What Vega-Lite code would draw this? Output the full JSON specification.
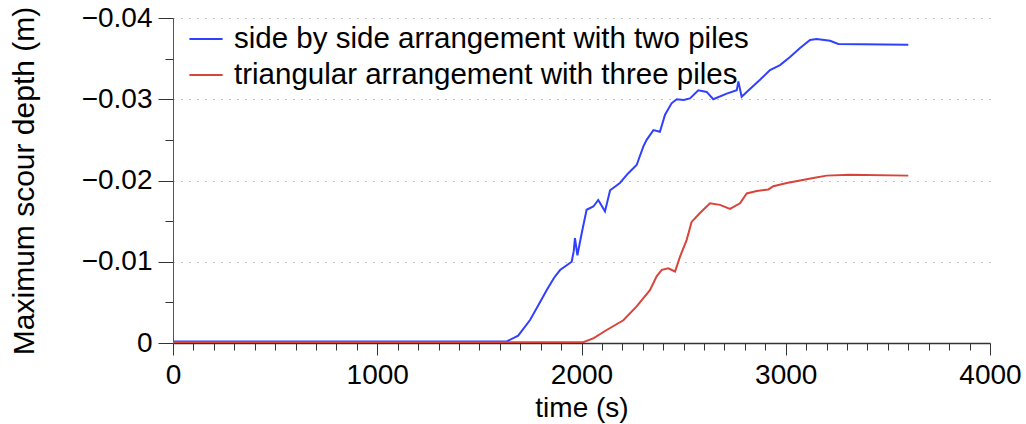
{
  "$schema": "https://vega.github.io/schema/vega-lite/v6.json",
  "autosize": {"type": "none"},
  "width": 817,
  "height": 325,
  "padding": {"left": 173, "top": 18, "right": 36, "bottom": 81},
  "background": "white",
  "config": {
    "view": {"stroke": null},
    "font": "Liberation Sans"
  },
  "data": {
    "values": [
      {"t": 0, "d": -0.0002, "s": "side by side arrangement with two piles"},
      {"t": 1634, "d": -0.0002, "s": "side by side arrangement with two piles"},
      {"t": 1690, "d": -0.0009, "s": "side by side arrangement with two piles"},
      {"t": 1748, "d": -0.00283, "s": "side by side arrangement with two piles"},
      {"t": 1790, "d": -0.0047, "s": "side by side arrangement with two piles"},
      {"t": 1830, "d": -0.00652, "s": "side by side arrangement with two piles"},
      {"t": 1865, "d": -0.0080, "s": "side by side arrangement with two piles"},
      {"t": 1895, "d": -0.00898, "s": "side by side arrangement with two piles"},
      {"t": 1952, "d": -0.0100, "s": "side by side arrangement with two piles"},
      {"t": 1962, "d": -0.0113, "s": "side by side arrangement with two piles"},
      {"t": 1968, "d": -0.0129, "s": "side by side arrangement with two piles"},
      {"t": 1980, "d": -0.0108, "s": "side by side arrangement with two piles"},
      {"t": 2001, "d": -0.0135, "s": "side by side arrangement with two piles"},
      {"t": 2025, "d": -0.0164, "s": "side by side arrangement with two piles"},
      {"t": 2058, "d": -0.0168, "s": "side by side arrangement with two piles"},
      {"t": 2082, "d": -0.0176, "s": "side by side arrangement with two piles"},
      {"t": 2115, "d": -0.0162, "s": "side by side arrangement with two piles"},
      {"t": 2140, "d": -0.0188, "s": "side by side arrangement with two piles"},
      {"t": 2188, "d": -0.0197, "s": "side by side arrangement with two piles"},
      {"t": 2229, "d": -0.0209, "s": "side by side arrangement with two piles"},
      {"t": 2270, "d": -0.0219, "s": "side by side arrangement with two piles"},
      {"t": 2303, "d": -0.0242, "s": "side by side arrangement with two piles"},
      {"t": 2319, "d": -0.0250, "s": "side by side arrangement with two piles"},
      {"t": 2352, "d": -0.0262, "s": "side by side arrangement with two piles"},
      {"t": 2384, "d": -0.0260, "s": "side by side arrangement with two piles"},
      {"t": 2409, "d": -0.0281, "s": "side by side arrangement with two piles"},
      {"t": 2441, "d": -0.0295, "s": "side by side arrangement with two piles"},
      {"t": 2466, "d": -0.0300, "s": "side by side arrangement with two piles"},
      {"t": 2500, "d": -0.0299, "s": "side by side arrangement with two piles"},
      {"t": 2531, "d": -0.0301, "s": "side by side arrangement with two piles"},
      {"t": 2572, "d": -0.0311, "s": "side by side arrangement with two piles"},
      {"t": 2613, "d": -0.0309, "s": "side by side arrangement with two piles"},
      {"t": 2645, "d": -0.0300, "s": "side by side arrangement with two piles"},
      {"t": 2711, "d": -0.0307, "s": "side by side arrangement with two piles"},
      {"t": 2760, "d": -0.0311, "s": "side by side arrangement with two piles"},
      {"t": 2768, "d": -0.0322, "s": "side by side arrangement with two piles"},
      {"t": 2784, "d": -0.0303, "s": "side by side arrangement with two piles"},
      {"t": 2809, "d": -0.0309, "s": "side by side arrangement with two piles"},
      {"t": 2874, "d": -0.0324, "s": "side by side arrangement with two piles"},
      {"t": 2923, "d": -0.0336, "s": "side by side arrangement with two piles"},
      {"t": 2972, "d": -0.0342, "s": "side by side arrangement with two piles"},
      {"t": 3021, "d": -0.0352, "s": "side by side arrangement with two piles"},
      {"t": 3070, "d": -0.0363, "s": "side by side arrangement with two piles"},
      {"t": 3119, "d": -0.0373, "s": "side by side arrangement with two piles"},
      {"t": 3151, "d": -0.0374, "s": "side by side arrangement with two piles"},
      {"t": 3217, "d": -0.0372, "s": "side by side arrangement with two piles"},
      {"t": 3257, "d": -0.0368, "s": "side by side arrangement with two piles"},
      {"t": 3600, "d": -0.0367, "s": "side by side arrangement with two piles"},
      {"t": 0, "d": -0.0001, "s": "triangular arrangement with three piles"},
      {"t": 2009, "d": -0.0001, "s": "triangular arrangement with three piles"},
      {"t": 2060, "d": -0.0006, "s": "triangular arrangement with three piles"},
      {"t": 2123, "d": -0.0016, "s": "triangular arrangement with three piles"},
      {"t": 2205, "d": -0.0028, "s": "triangular arrangement with three piles"},
      {"t": 2270, "d": -0.0045, "s": "triangular arrangement with three piles"},
      {"t": 2335, "d": -0.0065, "s": "triangular arrangement with three piles"},
      {"t": 2368, "d": -0.0082, "s": "triangular arrangement with three piles"},
      {"t": 2393, "d": -0.0090, "s": "triangular arrangement with three piles"},
      {"t": 2425, "d": -0.0092, "s": "triangular arrangement with three piles"},
      {"t": 2458, "d": -0.0088, "s": "triangular arrangement with three piles"},
      {"t": 2482, "d": -0.0106, "s": "triangular arrangement with three piles"},
      {"t": 2515, "d": -0.0127, "s": "triangular arrangement with three piles"},
      {"t": 2539, "d": -0.0149, "s": "triangular arrangement with three piles"},
      {"t": 2580, "d": -0.0160, "s": "triangular arrangement with three piles"},
      {"t": 2629, "d": -0.0172, "s": "triangular arrangement with three piles"},
      {"t": 2678, "d": -0.0170, "s": "triangular arrangement with three piles"},
      {"t": 2727, "d": -0.0165, "s": "triangular arrangement with three piles"},
      {"t": 2776, "d": -0.0172, "s": "triangular arrangement with three piles"},
      {"t": 2809, "d": -0.0184, "s": "triangular arrangement with three piles"},
      {"t": 2858, "d": -0.0187, "s": "triangular arrangement with three piles"},
      {"t": 2915, "d": -0.0189, "s": "triangular arrangement with three piles"},
      {"t": 2939, "d": -0.0193, "s": "triangular arrangement with three piles"},
      {"t": 3005, "d": -0.0197, "s": "triangular arrangement with three piles"},
      {"t": 3070, "d": -0.0200, "s": "triangular arrangement with three piles"},
      {"t": 3135, "d": -0.0203, "s": "triangular arrangement with three piles"},
      {"t": 3200, "d": -0.0206, "s": "triangular arrangement with three piles"},
      {"t": 3314, "d": -0.0207, "s": "triangular arrangement with three piles"},
      {"t": 3600, "d": -0.0206, "s": "triangular arrangement with three piles"}
    ]
  },
  "mark": {"type": "line", "strokeWidth": 2, "clip": true},
  "encoding": {
    "x": {
      "field": "t",
      "type": "quantitative",
      "scale": {"domain": [0, 4000], "nice": false, "zero": false},
      "axis": {
        "title": "time (s)",
        "titleFont": "Liberation Sans",
        "titleFontSize": 28,
        "titleFontWeight": "normal",
        "titleColor": "black",
        "titlePadding": 5,
        "values": [0,100,200,300,400,500,600,700,800,900,1000,1100,1200,1300,1400,1500,1600,1700,1800,1900,2000,2100,2200,2300,2400,2500,2600,2700,2800,2900,3000,3100,3200,3300,3400,3500,3600,3700,3800,3900,4000],
        "labelExpr": "datum.value % 1000 === 0 ? format(datum.value, 'd') : ''",
        "labelFont": "Liberation Sans",
        "labelFontSize": 28,
        "labelColor": "black",
        "labelPadding": 6,
        "labelFlush": false,
        "labelOverlap": false,
        "tickSize": {"condition": {"test": "datum.value % 1000 === 0", "value": 12}, "value": 7},
        "tickColor": "#333",
        "tickWidth": 1,
        "domainColor": "#333",
        "domainWidth": 1.5,
        "grid": false
      }
    },
    "y": {
      "field": "d",
      "type": "quantitative",
      "scale": {"domain": [-0.04, 0], "reverse": true, "nice": false, "zero": false},
      "axis": {
        "title": "Maximum scour depth (m)",
        "titleFont": "Liberation Sans",
        "titleFontSize": 30,
        "titleFontWeight": "normal",
        "titleColor": "black",
        "titlePadding": 42,
        "values": [0, -0.005, -0.01, -0.015, -0.02, -0.025, -0.03, -0.035, -0.04],
        "labelExpr": "abs(datum.value * 100 - round(datum.value * 100)) < 1e-6 ? (datum.value === 0 ? '0' : '\u2212' + format(abs(datum.value), '.2f')) : ''",
        "labelFont": "Liberation Sans",
        "labelFontSize": 28,
        "labelColor": "black",
        "labelPadding": 6,
        "labelOverlap": false,
        "tickSize": {"condition": {"test": "abs(datum.value * 100 - round(datum.value * 100)) < 1e-6", "value": 15}, "value": 8},
        "tickColor": "#333",
        "tickWidth": 1,
        "domainColor": "#555",
        "domainWidth": 1,
        "grid": true,
        "gridColor": "#888",
        "gridDash": [1, 7],
        "gridWidth": 1,
        "gridOpacity": {"condition": {"test": "abs(datum.value * 100 - round(datum.value * 100)) < 1e-6 && datum.value !== 0", "value": 1}, "value": 0}
      }
    },
    "color": {
      "field": "s",
      "type": "nominal",
      "scale": {
        "domain": ["side by side arrangement with two piles", "triangular arrangement with three piles"],
        "range": ["#3040ff", "#d8443a"]
      },
      "legend": {
        "title": null,
        "orient": "none",
        "legendX": 15,
        "legendY": 3,
        "symbolType": "stroke",
        "symbolSize": 1100,
        "symbolStrokeWidth": 2,
        "labelFont": "Liberation Sans",
        "labelFontSize": 29.5,
        "labelColor": "black",
        "labelLimit": 0,
        "labelOffset": 10,
        "rowPadding": 3,
        "padding": 0
      }
    }
  }
}
